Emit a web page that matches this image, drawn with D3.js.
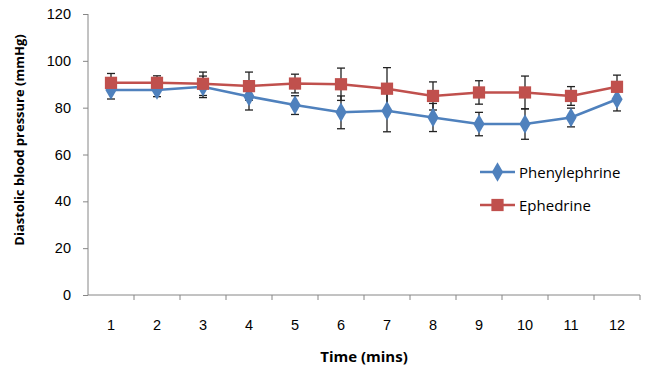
<!DOCTYPE html>
<html>
<head>
<meta charset="utf-8">
<script src="https://cdn.jsdelivr.net/npm/d3@7"></script>
<style>
  body { margin: 0; background: #fff; }
  svg { font-family: "Open Sans", "Liberation Sans", sans-serif; }
  .axis path, .axis line { stroke: #868686; }
  .axis text { fill: #000; font-size: 14.5px; }
</style>
</head>
<body>
<div id="chart"></div>
<script>
var times = ["1", "2", "3", "4", "5", "6", "7", "8", "9", "10", "11", "12"];
var yTicks = [0, 20, 40, 60, 80, 100, 120];

var pheMean = [87.5, 87.5, 88.9, 84.8, 81.1, 78.0, 78.7, 75.8, 73.0, 73.0, 75.8, 83.6];
var pheErr  = [3.8, 2.8, 4.6, 5.8, 4.0, 7.0, 9.0, 6.0, 5.0, 6.5, 4.0, 5.0];
var ephMean = [90.6, 90.6, 90.2, 89.2, 90.3, 90.0, 88.1, 85.0, 86.5, 86.5, 85.0, 88.9];
var ephErr  = [4.0, 3.0, 5.0, 6.0, 4.0, 6.9, 9.0, 6.0, 5.0, 7.0, 4.0, 5.0];

var seriesNames = ["Phenylephrine", "Ephedrine"];
var seriesColors = ["#4F81BD", "#C0504D"];

var margin = {top: 14, right: 14, bottom: 82, left: 88};
var width = 654 - margin.left - margin.right;
var height = 377 - margin.top - margin.bottom;

var svg = d3.select("#chart").append("svg")
    .attr("width", 654)
    .attr("height", 377);

var g = svg.append("g")
    .attr("transform", "translate(" + margin.left + "," + margin.top + ")");

var x = d3.scaleBand().domain(times).range([0, width]);
var y = d3.scaleLinear().domain([0, 120]).range([height, 0]);

// Y axis
var yAxis = d3.axisLeft(y).tickValues(yTicks).tickSize(5).tickPadding(12);
g.append("g").attr("class", "axis").call(yAxis)
    .call(function (s) { s.select(".domain").attr("d", "M0,0V" + height); });

// X axis: labels in band centres, ticks on band edges
var xAxis = d3.axisBottom(x).tickSize(0).tickPadding(25);
var xg = g.append("g").attr("class", "axis")
    .attr("transform", "translate(0," + height + ")")
    .call(xAxis);
xg.select(".domain").attr("d", "M0,0H" + width);
xg.selectAll(".edge")
    .data(times)
    .enter().append("line")
    .attr("class", "edge")
    .attr("x1", function (d) { return x(d) + x.bandwidth(); })
    .attr("x2", function (d) { return x(d) + x.bandwidth(); })
    .attr("y1", 0).attr("y2", 5);

// axis titles
svg.append("text")
    .attr("transform", "rotate(-90)")
    .attr("x", -140)
    .attr("y", 24)
    .style("text-anchor", "middle")
    .style("font-size", "13px")
    .style("font-weight", "bold")
    .text("Diastolic blood pressure (mmHg)");

svg.append("text")
    .attr("x", margin.left + width / 2)
    .attr("y", 362)
    .style("text-anchor", "middle")
    .style("font-size", "15px")
    .style("font-weight", "bold")
    .text("Time (mins)");

var cx = function (i) { return x(times[i]) + x.bandwidth() / 2; };

var series = [
    {name: seriesNames[0], color: seriesColors[0], mean: pheMean, err: pheErr, shape: d3.symbolDiamond},
    {name: seriesNames[1], color: seriesColors[1], mean: ephMean, err: ephErr, shape: d3.symbolSquare}
];

// error bars (under the lines)
series.forEach(function (s) {
    var eb = g.append("g").attr("stroke", "#222").attr("stroke-width", 1.3);
    s.mean.forEach(function (m, i) {
        var top = y(m + s.err[i]), bot = y(m - s.err[i]);
        eb.append("line").attr("x1", cx(i)).attr("x2", cx(i)).attr("y1", top).attr("y2", bot);
        eb.append("line").attr("x1", cx(i) - 4).attr("x2", cx(i) + 4).attr("y1", top).attr("y2", top);
        eb.append("line").attr("x1", cx(i) - 4).attr("x2", cx(i) + 4).attr("y1", bot).attr("y2", bot);
    });
});

var line = d3.line()
    .x(function (d, i) { return cx(i); })
    .y(function (d) { return y(d); });

series.forEach(function (s) {
    g.append("path")
        .datum(s.mean)
        .attr("fill", "none")
        .attr("stroke", s.color)
        .attr("stroke-width", 2.5)
        .attr("d", line);
    g.selectAll(null)
        .data(s.mean)
        .enter().append("path")
        .attr("d", d3.symbol().type(s.shape).size(s.shape === d3.symbolSquare ? 150 : 110))
        .attr("transform", function (d, i) { return "translate(" + cx(i) + "," + y(d) + ")"; })
        .attr("fill", s.color);
});

// legend
var legend = svg.append("g").attr("transform", "translate(480,172)");
series.forEach(function (s, k) {
    var lg = legend.append("g").attr("transform", "translate(0," + (k * 33) + ")");
    lg.append("line").attr("x1", 0).attr("x2", 35).attr("y1", 0).attr("y2", 0)
        .attr("stroke", s.color).attr("stroke-width", 2.5);
    lg.append("path")
        .attr("d", d3.symbol().type(s.shape).size(s.shape === d3.symbolSquare ? 150 : 110))
        .attr("transform", "translate(17.5,0)")
        .attr("fill", s.color);
    lg.append("text").attr("x", 39).attr("y", 5.5)
        .style("font-size", "15px")
        .text(s.name);
});
</script>
</body>
</html>
